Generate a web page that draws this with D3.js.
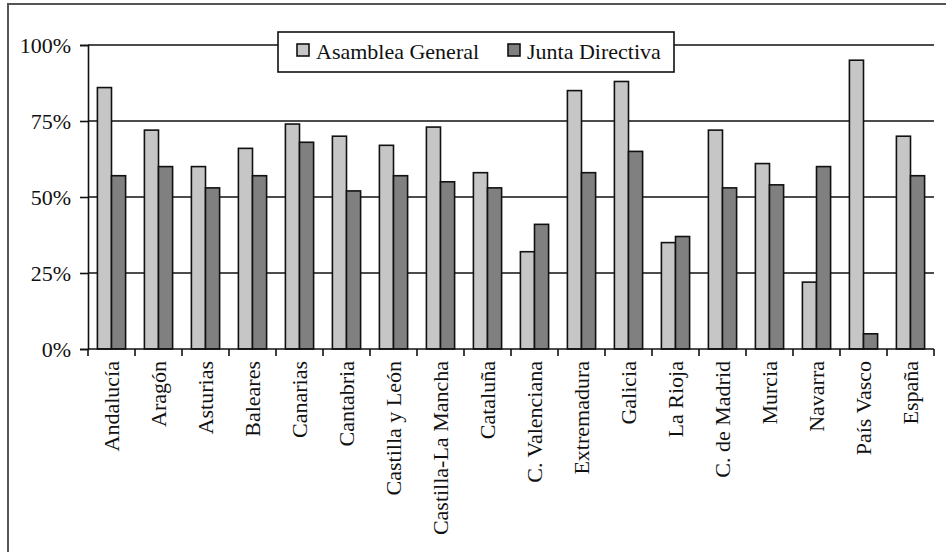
<!DOCTYPE html>
<html>
<head>
<meta charset="utf-8">
<script src="https://cdn.jsdelivr.net/npm/d3@7/dist/d3.min.js"></script>
<style>
  html, body { margin: 0; padding: 0; background: #fff; }
  svg { display: block; }
</style>
</head>
<body>
<svg id="chart" width="946" height="552"></svg>
<script>
// Regions of Spain
const categories = ["Andalucía", "Aragón", "Asturias", "Baleares", "Canarias", "Cantabria",
  "Castilla y León", "Castilla-La Mancha", "Cataluña", "C. Valenciana", "Extremadura",
  "Galicia", "La Rioja", "C. de Madrid", "Murcia", "Navarra", "País Vasco", "España"];

const seriesNames = ["Asamblea General", "Junta Directiva"];

// Percent values per region
const asamblea = [86, 72, 60, 66, 74, 70, 67, 73, 58, 32, 85, 88, 35, 72, 61, 22, 95, 70];
const junta    = [57, 60, 53, 57, 68, 52, 57, 55, 53, 41, 58, 65, 37, 53, 54, 60, 5, 57];

const yTicks = [0, 25, 50, 75, 100];

const colors = ["#c6c6c6", "#808080"];
const FONT = "'Liberation Serif', 'DejaVu Serif', serif";

const svg = d3.select("#chart")
  .attr("font-family", FONT);

// outer frame (cropped on the right and bottom)
svg.append("rect")
  .attr("x", 8).attr("y", 4)
  .attr("width", 960).attr("height", 600)
  .attr("fill", "none").attr("stroke", "#555").attr("stroke-width", 2);

const plotLeft = 88, plotRight = 934, plotTop = 45, plotBottom = 349;

const x = d3.scaleBand().domain(categories).range([plotLeft, plotRight]).paddingInner(0.4).paddingOuter(0.2);
const x0 = d3.scaleBand().domain(seriesNames).range([0, x.bandwidth()]);
const y = d3.scaleLinear().domain([0, 100]).range([plotBottom, plotTop]);

// horizontal grid lines
svg.append("g").selectAll("line").data(yTicks.filter(d => d > 0)).join("line")
  .attr("x1", plotLeft).attr("x2", plotRight)
  .attr("y1", d => y(d)).attr("y2", d => y(d))
  .attr("stroke", "#111").attr("stroke-width", 1.6);

// bars
const rows = categories.map((c, i) => ({ cat: c, vals: [asamblea[i], junta[i]] }));
const groups = svg.append("g").selectAll("g").data(rows).join("g")
  .attr("transform", d => `translate(${x(d.cat)},0)`);
groups.selectAll("rect").data(d => d.vals.map((v, j) => ({ v, j }))).join("rect")
  .attr("x", d => x0(seriesNames[d.j]))
  .attr("width", x0.bandwidth())
  .attr("y", d => y(d.v))
  .attr("height", d => y(0) - y(d.v))
  .attr("fill", d => colors[d.j])
  .attr("stroke", "#111").attr("stroke-width", 1.6);

// y axis
const yAxis = svg.append("g").attr("transform", `translate(${plotLeft},0)`)
  .call(d3.axisLeft(y).tickValues(yTicks).tickFormat(d => d + "%").tickSize(8).tickPadding(9));
yAxis.attr("font-family", FONT).attr("font-size", 22);
yAxis.select(".domain").attr("stroke", "#111").attr("stroke-width", 1.6);
yAxis.selectAll(".tick line").attr("stroke", "#111").attr("stroke-width", 1.6);
yAxis.selectAll(".tick text").attr("fill", "#111");

// x axis with ticks between categories
const xAxisG = svg.append("g").attr("transform", `translate(0,${plotBottom})`);
xAxisG.append("line").attr("x1", plotLeft).attr("x2", plotRight).attr("y1", 0).attr("y2", 0)
  .attr("stroke", "#111").attr("stroke-width", 1.6);
const step = x.step();
const boundaries = d3.range(categories.length + 1).map(i => plotLeft + i * step);
xAxisG.selectAll("line.tk").data(boundaries).join("line").attr("class", "tk")
  .attr("x1", d => d).attr("x2", d => d).attr("y1", 0).attr("y2", 7)
  .attr("stroke", "#111").attr("stroke-width", 1.6);
xAxisG.selectAll("text").data(categories).join("text")
  .attr("transform", d => `translate(${x(d) + x.bandwidth() / 2 + 7},12) rotate(-90)`)
  .attr("text-anchor", "end")
  .attr("font-size", 22)
  .attr("fill", "#111")
  .text(d => d);

// legend
const lg = svg.append("g").attr("transform", "translate(278,32)");
lg.append("rect").attr("width", 396).attr("height", 40)
  .attr("fill", "#fff").attr("stroke", "#111").attr("stroke-width", 1.6);
const items = [{ name: seriesNames[0], c: colors[0], x: 19 }, { name: seriesNames[1], c: colors[1], x: 230 }];
items.forEach(it => {
  lg.append("rect").attr("x", it.x).attr("y", 12).attr("width", 12).attr("height", 12)
    .attr("fill", it.c).attr("stroke", "#111").attr("stroke-width", 1.6);
  lg.append("text").attr("x", it.x + 19).attr("y", 27).attr("font-size", 22)
    .attr("fill", "#111").text(it.name);
});
</script>
</body>
</html>
